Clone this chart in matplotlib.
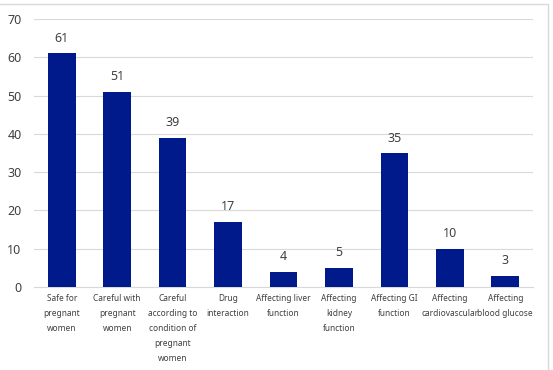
import matplotlib.pyplot as plt
from matplotlib.patches import Rectangle

categories = [
    "Safe for\npregnant\nwomen",
    "Careful with\npregnant\nwomen",
    "Careful\naccording to\ncondition of\npregnant\nwomen",
    "Drug\ninteraction",
    "Affecting liver\nfunction",
    "Affecting\nkidney\nfunction",
    "Affecting GI\nfunction",
    "Affecting\ncardiovascular",
    "Affecting\nblood glucose",
]
values = [61, 51, 39, 17, 4, 5, 35, 10, 3]
y_ticks = [0, 10, 20, 30, 40, 50, 60, 70]

plt.rcParams["font.family"] = ["Noto Sans", "DejaVu Sans"]

fig = plt.figure(figsize=(5.53, 3.70), dpi=100)
ax = fig.add_axes([34 / 553, 1 - 287 / 370, 499 / 553, 268 / 370])

# light chart frame
fig.patches.append(
    Rectangle((-0.01, -0.01), 548 / 553 + 0.01, 1 - 4 / 370 + 0.01,
              transform=fig.transFigure, fill=False, edgecolor="#D9D9D9", lw=1)
)

x = range(len(values))
bars = ax.bar(x, values, width=0.5, color="#001A8C", zorder=3)
for xi, v in zip(x, values):
    ax.text(xi, v + 3.9, str(v), ha="center", va="center", fontsize=9, color="#404040")

ax.set_ylim(0, 70)
ax.set_xlim(-0.5, len(values) - 0.5)
ax.set_yticks(y_ticks)
ax.set_xticks(list(x))
ax.set_xticklabels(categories, fontsize=6.0, color="#404040", linespacing=1.85, va="top")
ax.tick_params(axis="y", labelsize=9, colors="#404040", length=0, pad=9)
ax.tick_params(axis="x", length=0, pad=5)
ax.grid(axis="y", color="#D9D9D9", lw=0.8, zorder=0)
for s in ["top", "right", "left"]:
    ax.spines[s].set_visible(False)
ax.spines["bottom"].set_color("#D9D9D9")

fig.savefig("out.png", dpi=100)
